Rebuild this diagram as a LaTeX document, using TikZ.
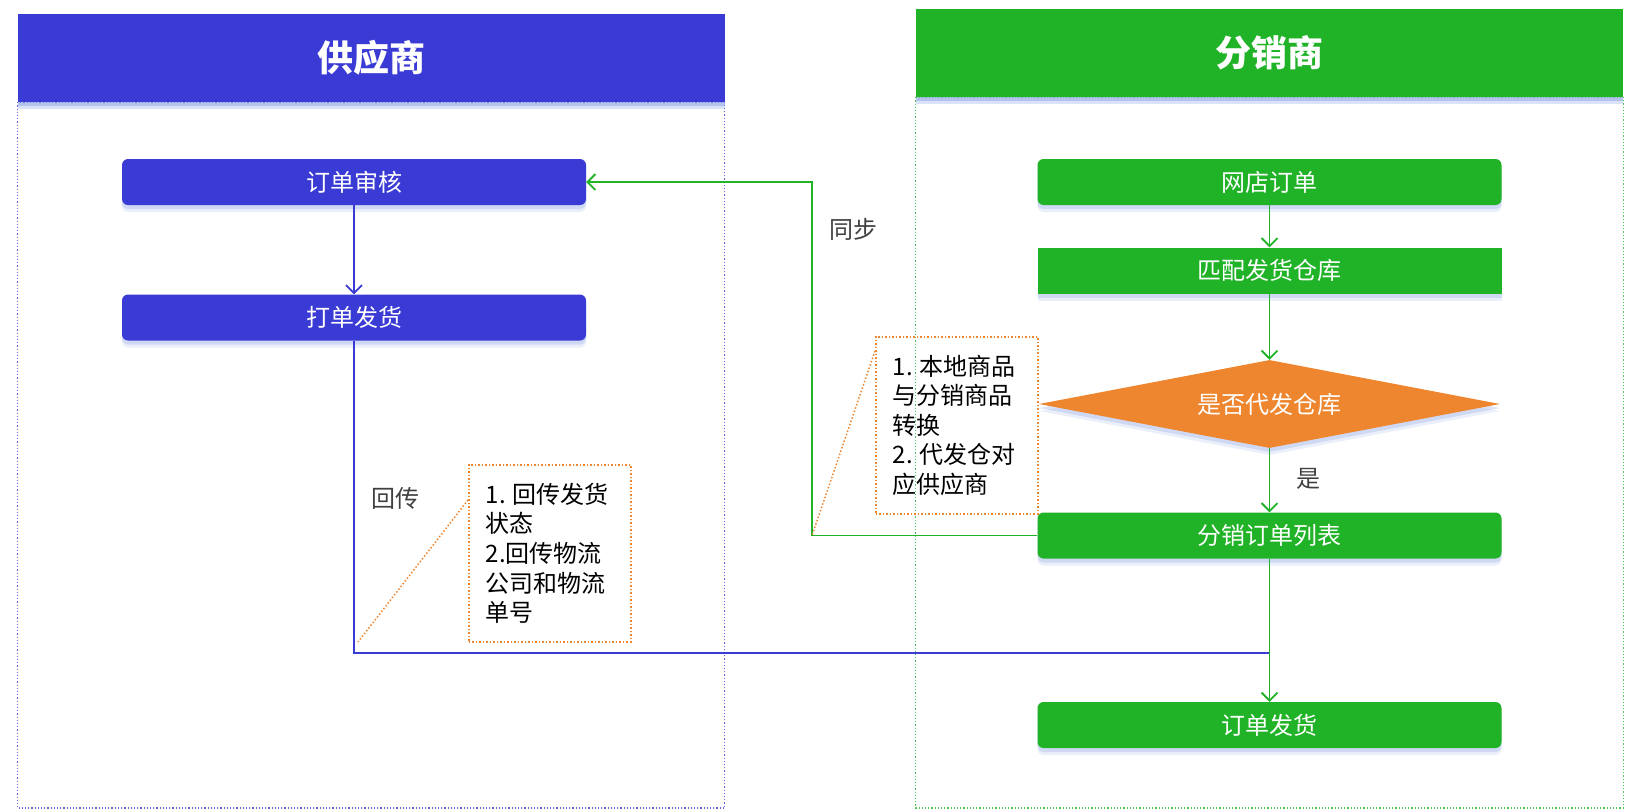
\documentclass[tikz,border=0pt]{standalone}
\usepackage{fontspec}
\setmainfont{Noto Sans CJK SC}
\usetikzlibrary{arrows.meta,calc,positioning,shapes.geometric,shadows}
\definecolor{supblue}{HTML}{3A3AD4}
\definecolor{disgreen}{HTML}{21B327}
\definecolor{askorange}{HTML}{EE862F}
\definecolor{glow}{HTML}{8FA6E6}
\definecolor{lblgray}{HTML}{404040}
\newcommand{\nsp}{\hspace{0.3em}}
\tikzset{
  glowshadow/.style={drop shadow={shadow xshift=0pt,shadow yshift=-7pt,fill=glow,opacity=.18},
    drop shadow={shadow xshift=0pt,shadow yshift=-4pt,fill=glow,opacity=.3}},
  lanehead/.style={fill=#1,minimum width=707pt,minimum height=88pt,inner sep=0pt,text=white,
    font=\fontsize{36}{40}\selectfont\bfseries,glowshadow},
  procbox/.style={fill=#1,rounded corners=6pt,minimum width=464pt,minimum height=46pt,inner sep=0pt,
    text=white,glowshadow},
  askbox/.style={diamond,aspect=5.24,fill=askorange,minimum width=461pt,minimum height=88pt,inner sep=0pt,
    text=white,glowshadow},
  notebox/.style={draw=askorange,dotted,line width=1.5pt,align=left,text width=128pt,inner xsep=17pt,
    inner ysep=12pt,minimum height=177pt,text=black,anchor=north west},
  lbl/.style={text=lblgray},
  flow/.style={#1,line width=1.8pt,->},
}
\begin{document}
\begin{tikzpicture}[x=1pt,y=-1pt,font=\fontsize{24}{29.6}\selectfont,
  >={Straight Barb[length=8pt,width=16pt]}]
\useasboundingbox (0,0) rectangle (1641,809);
\coordinate (bottom) at (0,808);
% lanes
\node[lanehead=supblue] (suphead) at (371,58) {供应商};
\node[lanehead=disgreen] (dishead) at (1269.5,53) {分销商};
\draw[supblue!80,dotted,line width=1.2pt] (suphead.south west) rectangle (suphead.east |- bottom);
\draw[disgreen!80,dotted,line width=1.2pt] (dishead.south west) rectangle (dishead.east |- bottom);
\node[lanehead=supblue] at (suphead) {供应商};
\node[lanehead=disgreen] at (dishead) {分销商};
% supplier side
\node[procbox=supblue] (audit) at (354,182) {订单审核};
\node[procbox=supblue] (print) at (354,317.5) {打单发货};
% distributor side
\node[procbox=disgreen] (shop) at (1269.5,182) {网店订单};
\node[procbox=disgreen,rounded corners=0pt] (match) at (1269.5,270.5) {匹配发货仓库};
\node[askbox] (agent) at (1269.5,404) {是否代发仓库};
\node[procbox=disgreen] (dlist) at (1269.5,535.5) {分销订单列表};
\node[procbox=disgreen] (ship) at (1269.5,725) {订单发货};
% notes
\node[notebox] (backnote) at (468,464) {1.\nsp 回传发货\\状态\\2.回传物流\\公司和物流\\单号};
\node[notebox] (mapnote) at (875,336) {1.\nsp 本地商品\\与分销商品\\转换\\2.\nsp 代发仓对\\应供应商};
% connectors
\coordinate (merge) at (1269.5,653);
\coordinate (syncturn) at (812,535.5);
\coordinate (backtip) at (358,642);
\draw[flow=supblue] (audit) -- (print);
\draw[supblue,line width=1.8pt] (print.south) |- (merge);
\draw[flow=disgreen] (shop) -- (match);
\draw[flow=disgreen] (match) -- (agent);
\draw[flow=disgreen] (agent) -- (dlist);
\draw[flow=disgreen] (dlist) -- (ship);
\draw[flow=disgreen] (dlist.west) -- (syncturn) |- (audit.east);
\draw[askorange,dotted,line width=1.5pt] (backnote.north west) ++(0,36) -- (backtip);
\draw[askorange,dotted,line width=1.5pt] (mapnote.north west) ++(0,15) -- (syncturn);
% labels
\node[lbl] (synclbl) at (853,229) {同步};
\node[lbl] (backlbl) at (395,498) {回传};
\node[lbl] (yeslbl) at (1308,479) {是};
\end{tikzpicture}
\end{document}
